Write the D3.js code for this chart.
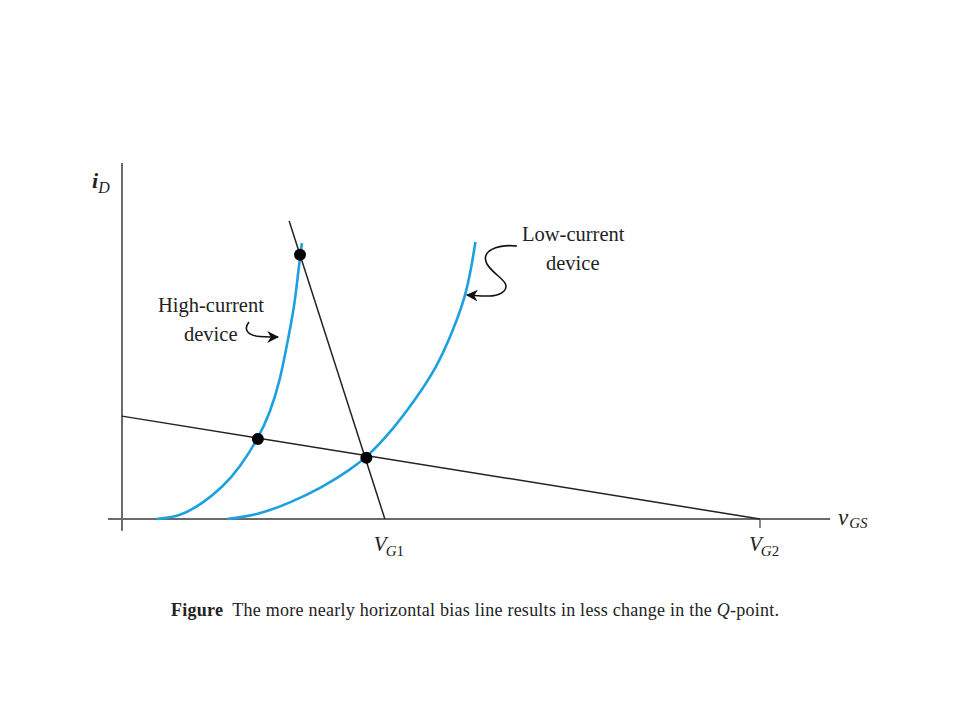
<!DOCTYPE html>
<html>
<head>
<meta charset="utf-8">
<script src="https://cdn.jsdelivr.net/npm/d3@7"></script>
<style>
  html, body { margin: 0; padding: 0; background: #fff; }
  svg { display: block; }
  text { font-family: "Liberation Serif", "Times New Roman", serif; fill: #222; }
</style>
</head>
<body>
<svg id="chart" width="960" height="720"></svg>
<script>
// ---- data (arbitrary units: v_GS horizontally, i_D vertically) ----
const highCurrentV = [0.54, 0.91, 1.27, 1.58, 1.85, 2.13, 2.32, 2.48, 2.60, 2.70, 2.76, 2.82];
const highCurrentI = [0.00, 0.065, 0.45, 0.90, 1.46, 2.25, 2.98, 3.90, 5.03, 5.95, 6.91, 7.75];
const lowCurrentV  = [1.65, 2.12, 2.63, 3.15, 3.57, 3.84, 4.20, 4.56, 4.94, 5.19, 5.41, 5.54];
const lowCurrentI  = [0.00, 0.11, 0.45, 0.90, 1.38, 1.74, 2.42, 3.26, 4.27, 5.31, 6.35, 7.78];
const steepLineV   = [2.62, 4.12];
const steepLineI   = [8.37, 0.00];
const shallowLineV = [0.00, 10.0];
const shallowLineI = [2.89, 0.00];
const qPointV      = [2.79, 2.13, 3.83];
const qPointI      = [7.42, 2.25, 1.72];
const tickNames    = ["G1", "G2"];
const tickValues   = [4.12, 10.0];
const caption = "The more nearly horizontal bias line results in less change in the ";

// ---- scales ----
const svg = d3.select("#chart");
const x = d3.scaleLinear().domain([0, 10]).range([122, 760]);
const y = d3.scaleLinear().domain([0, 10]).range([519, 163]);

const zip = (a, b) => a.map((v, i) => [v, b[i]]);
const line = d3.line().x(d => x(d[0])).y(d => y(d[1]));
const curve = d3.line().x(d => x(d[0])).y(d => y(d[1])).curve(d3.curveBasis);

// ---- axes ----
const axisColor = "#6a6a6a";
svg.append("line").attr("x1", x(0)).attr("x2", x(0))
  .attr("y1", y(10)).attr("y2", y(-0.33))
  .attr("stroke", axisColor).attr("stroke-width", 2);
svg.append("line").attr("x1", x(-0.22)).attr("x2", x(11.1))
  .attr("y1", y(0)).attr("y2", y(0))
  .attr("stroke", axisColor).attr("stroke-width", 2);
// tick at V_G2
svg.append("line").attr("x1", x(tickValues[1])).attr("x2", x(tickValues[1]))
  .attr("y1", y(0)).attr("y2", y(0) + 9)
  .attr("stroke", axisColor).attr("stroke-width", 1.6);

// ---- bias lines ----
svg.append("path").datum(zip(steepLineV, steepLineI)).attr("d", line)
  .attr("fill", "none").attr("stroke", "#222").attr("stroke-width", 1.5);
svg.append("path").datum(zip(shallowLineV, shallowLineI)).attr("d", line)
  .attr("fill", "none").attr("stroke", "#222").attr("stroke-width", 1.5);

// ---- device curves ----
const blue = "#1ea0e0";
svg.append("path").datum(zip(highCurrentV, highCurrentI)).attr("d", curve)
  .attr("fill", "none").attr("stroke", blue).attr("stroke-width", 2.6);
svg.append("path").datum(zip(lowCurrentV, lowCurrentI)).attr("d", curve)
  .attr("fill", "none").attr("stroke", blue).attr("stroke-width", 2.6);

// ---- Q-points ----
svg.selectAll("circle.q").data(zip(qPointV, qPointI)).enter().append("circle")
  .attr("class", "q").attr("cx", d => x(d[0])).attr("cy", d => y(d[1]))
  .attr("r", 6).attr("fill", "#000");

// ---- axis labels ----
const iD = svg.append("text").attr("x", 92).attr("y", 188).attr("font-size", 22)
  .attr("font-style", "italic").attr("font-weight", "bold");
iD.append("tspan").text("i");
iD.append("tspan").attr("font-size", 16).attr("dy", 5).attr("font-weight", "normal").text("D");

const vGS = svg.append("text").attr("x", 838).attr("y", 525).attr("font-size", 23)
  .attr("font-style", "italic");
vGS.append("tspan").text("v");
vGS.append("tspan").attr("font-size", 15).attr("dy", 3).attr("dx", 1).text("GS");

tickValues.forEach((tv, k) => {
  const t = svg.append("text").attr("x", x(tv) - 11).attr("y", 551).attr("font-size", 21)
    .attr("font-style", "italic");
  t.append("tspan").text("V");
  const sub = t.append("tspan").attr("font-size", 15).attr("dy", 5).attr("dx", -1);
  sub.append("tspan").text("G");
  sub.append("tspan").attr("font-style", "normal").text(tickNames[k].slice(1));
});

// ---- annotations ----
svg.append("text").attr("x", 158).attr("y", 312).attr("font-size", 20.5).text("High-current");
svg.append("text").attr("x", 184).attr("y", 341).attr("font-size", 20.5).text("device");
svg.append("text").attr("x", 522).attr("y", 241).attr("font-size", 20.5).text("Low-current");
svg.append("text").attr("x", 546).attr("y", 270).attr("font-size", 20.5).text("device");

const defs = svg.append("defs");
defs.append("marker").attr("id", "ah").attr("viewBox", "0 0 10 10")
  .attr("refX", 9).attr("refY", 5).attr("markerWidth", 12).attr("markerHeight", 12)
  .attr("markerUnits", "userSpaceOnUse").attr("orient", "auto")
  .append("path").attr("d", "M0,0 L10,5 L0,10 L3,5 Z").attr("fill", "#111");

svg.append("path")
  .attr("d", "M249,322 C244,328 246,334 256,336 C262,337 268,337 278,337")
  .attr("fill", "none").attr("stroke", "#111").attr("stroke-width", 1.6)
  .attr("marker-end", "url(#ah)");
svg.append("path")
  .attr("d", "M517,246 C497,244 480,251 487,264 C494,276 512,282 504,291 C497,298 485,296 467,295")
  .attr("fill", "none").attr("stroke", "#111").attr("stroke-width", 1.6)
  .attr("marker-end", "url(#ah)");

// ---- caption ----
const cap = svg.append("text").attr("x", 171).attr("y", 616).attr("font-size", 18)
  .attr("fill", "#000").attr("textLength", 608).attr("lengthAdjust", "spacing");
cap.append("tspan").attr("font-weight", "bold").text("Figure");
cap.append("tspan").text("\u00a0 " + caption);
cap.append("tspan").attr("font-style", "italic").text("Q");
cap.append("tspan").text("-point.");
</script>
</body>
</html>
